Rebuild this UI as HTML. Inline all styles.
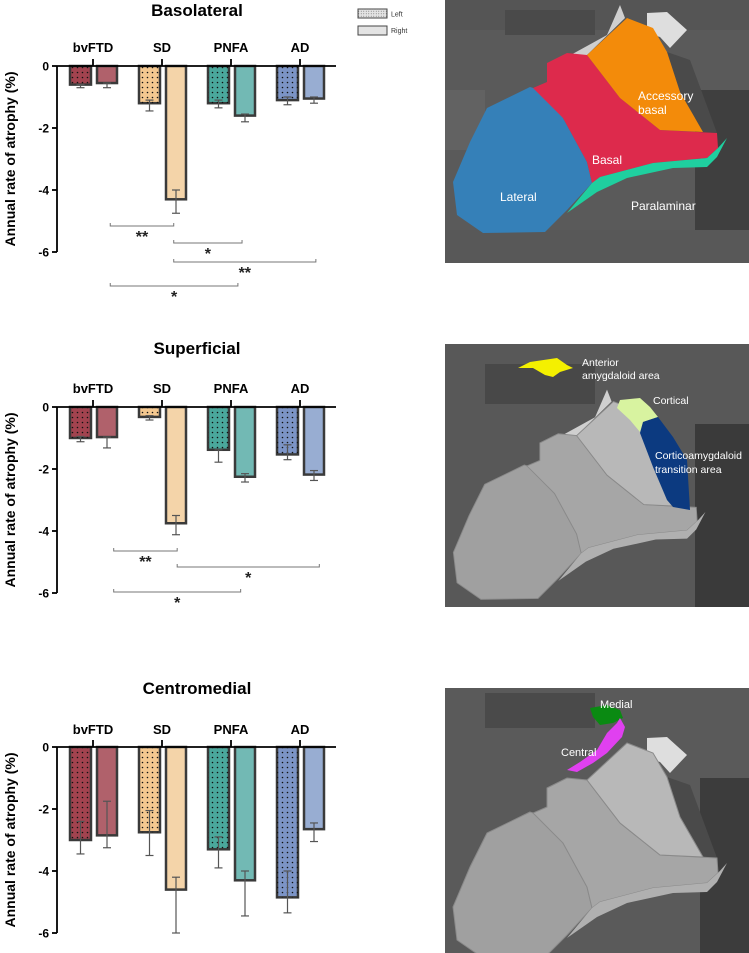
<!DOCTYPE html>
<html><head><meta charset="utf-8">
<style>
html,body{margin:0;padding:0;background:#fff;}
body{width:749px;height:953px;position:relative;overflow:hidden;font-family:"Liberation Sans",Arial,sans-serif;}
svg text{font-family:"Liberation Sans",Arial,sans-serif;}
.panel{position:absolute;left:445px;width:304px;}
</style></head>
<body>
<svg id="charts" width="445" height="953" style="position:absolute;left:0;top:0">
<defs>
<pattern id="dots" width="5" height="5" patternUnits="userSpaceOnUse">
<circle cx="2.5" cy="2.5" r="0.8" fill="#111"/>
</pattern>
<pattern id="dotsLeg" width="2.5" height="2.5" patternUnits="userSpaceOnUse">
<circle cx="1.25" cy="1.25" r="0.45" fill="#666"/>
</pattern>
</defs>
<g>
<rect x="358" y="9" width="29" height="9" fill="#e4e4e4" stroke="#444" stroke-width="1"/>
<rect x="358" y="9" width="29" height="9" fill="url(#dotsLeg)"/>
<text x="391" y="16.5" font-size="7" fill="#333">Left</text>
<rect x="358" y="26" width="29" height="9" fill="#e4e4e4" stroke="#444" stroke-width="1"/>
<text x="391" y="33" font-size="7" fill="#333">Right</text>
</g>
</svg>

<svg class="panel" style="top:0" width="304" height="263">
<rect width="304" height="263" fill="#5a5a5a"/>
<rect x="0" y="0" width="304" height="30" fill="#555"/>
<rect x="60" y="10" width="90" height="25" fill="#4a4a4a"/>
<rect x="0" y="90" width="40" height="60" fill="#626262"/>
<rect x="250" y="90" width="54" height="173" fill="#3f3f3f"/>
<rect x="0" y="230" width="304" height="33" fill="#585858"/>
<polygon points="122,57 162,35 175,5 180,18 142,55" fill="#cfcfcf"/>
<polygon points="202,13 222,12 242,30 225,48 215,37 202,33" fill="#dedede"/>
<polygon points="222,52 245,60 272,133 258,132 235,92" fill="#4a4a4a"/>
<polygon points="85,87 42,108 25,142 8,182 12,215 38,233 100,232 122,210 147,183 142,162 118,118 95,90" fill="#3580b8"/>
<polygon points="102,63 122,53 142,55 175,98 215,130 272,133 273,148 262,158 208,163 155,177 147,183 142,162 118,118 88,88 102,82" fill="#dd2a4c"/>
<polygon points="142,55 182,18 208,28 222,52 235,92 258,132 215,130 175,98" fill="#f38b0a"/>
<polygon points="147,183 155,177 208,163 262,158 273,148 282,138 272,157 262,167 228,168 182,178 152,192 122,213" fill="#1fcf9f"/>
<text x="193" y="100" font-size="12" fill="#fff">Accessory</text>
<text x="193" y="114" font-size="12" fill="#fff">basal</text>
<text x="147" y="164" font-size="12" fill="#fff">Basal</text>
<text x="55" y="201" font-size="12" fill="#fff">Lateral</text>
<text x="186" y="210" font-size="12" fill="#fff">Paralaminar</text>
</svg>

<svg class="panel" style="top:344px" width="304" height="263">
<rect width="304" height="263" fill="#585858"/>
<rect x="40" y="20" width="110" height="40" fill="#484848"/>
<rect x="250" y="80" width="54" height="183" fill="#3a3a3a"/>
<g transform="translate(1,41) scale(0.92)">
<polygon points="122,57 162,35 175,5 180,18 142,55" fill="#cfcfcf"/>
<polygon points="85,87 42,108 25,142 8,182 12,215 38,233 100,232 122,210 147,183 142,162 118,118 95,90" fill="#a0a0a0" stroke="#8a8a8a" stroke-width="1"/>
<polygon points="102,63 122,53 142,55 175,98 215,130 272,133 273,148 262,158 208,163 155,177 147,183 142,162 118,118 88,88 102,82" fill="#a6a6a6" stroke="#8a8a8a" stroke-width="1"/>
<polygon points="142,55 182,18 208,28 222,52 235,92 258,132 215,130 175,98" fill="#b8b8b8" stroke="#8a8a8a" stroke-width="1"/>
<polygon points="147,183 155,177 208,163 262,158 273,148 282,138 272,157 262,167 228,168 182,178 152,192 122,213" fill="#b0b0b0"/>
</g>
<polygon points="73,24 85,18 112,14 122,21 128,24 115,28 108,33 100,31 88,24" fill="#f4f000"/>
<polygon points="175,56 195,54 205,63 213,73 198,78 195,88 185,76 172,64" fill="#d8f3a0"/>
<polygon points="198,78 213,73 228,93 242,116 245,166 228,163 222,156 208,123 195,89" fill="#0c3a80"/>
<text x="137" y="22" font-size="10.5" fill="#fff">Anterior</text>
<text x="137" y="35" font-size="10.5" fill="#fff">amygdaloid area</text>
<text x="208" y="60" font-size="10.5" fill="#fff">Cortical</text>
<text x="210" y="115" font-size="10.5" fill="#fff">Corticoamygdaloid</text>
<text x="210" y="129" font-size="10.5" fill="#fff">transition area</text>
</svg>

<svg class="panel" style="top:688px" width="304" height="265">
<rect width="304" height="265" fill="#5a5a5a"/>
<rect x="40" y="5" width="110" height="35" fill="#4a4a4a"/>
<rect x="255" y="90" width="49" height="175" fill="#3c3c3c"/>
<g transform="translate(0,37)">
<polygon points="202,13 222,12 242,30 225,48 215,37 202,33" fill="#dedede"/>
<polygon points="222,52 245,60 272,133 258,132 235,92" fill="#4a4a4a"/>
<polygon points="85,87 42,108 25,142 8,182 12,215 38,233 100,232 122,210 147,183 142,162 118,118 95,90" fill="#a0a0a0" stroke="#8a8a8a" stroke-width="1"/>
<polygon points="102,63 122,53 142,55 175,98 215,130 272,133 273,148 262,158 208,163 155,177 147,183 142,162 118,118 88,88 102,82" fill="#a6a6a6" stroke="#8a8a8a" stroke-width="1"/>
<polygon points="142,55 182,18 208,28 222,52 235,92 258,132 215,130 175,98" fill="#b8b8b8" stroke="#8a8a8a" stroke-width="1"/>
<polygon points="147,183 155,177 208,163 262,158 273,148 282,138 272,157 262,167 228,168 182,178 152,192 122,213" fill="#b0b0b0"/>
</g>
<polygon points="145,20 162,17 175,22 178,30 168,35 155,37 148,29" fill="#0a8a12"/>
<polygon points="175,30 180,39 177,49 162,65 148,75 132,84 122,82 135,74 152,62 162,45 172,35" fill="#e040f0"/>
<text x="155" y="20" font-size="11" fill="#fff">Medial</text>
<text x="116" y="68" font-size="11" fill="#fff">Central</text>
</svg>

<script>
const categories = ["bvFTD","SD","PNFA","AD"];
const yTicks = [0,-2,-4,-6];
const yTickLabels = ["0","-2","-4","-6"];
const chartTitles = ["Basolateral","Superficial","Centromedial"];
// Basolateral
const basoLeft = [-0.6,-1.2,-1.2,-1.1];
const basoLeftLo = [-0.7,-1.45,-1.35,-1.25];
const basoLeftHi = [-0.6,-1.1,-1.1,-1.0];
const basoRight = [-0.55,-4.3,-1.6,-1.05];
const basoRightLo = [-0.7,-4.75,-1.8,-1.2];
const basoRightHi = [-0.55,-4.0,-1.55,-1.0];
// Superficial
const supLeft = [-1.0,-0.32,-1.38,-1.53];
const supLeftLo = [-1.12,-0.42,-1.78,-1.7];
const supLeftHi = [-0.95,-0.28,-1.38,-1.22];
const supRight = [-0.97,-3.75,-2.25,-2.18];
const supRightLo = [-1.32,-4.12,-2.42,-2.37];
const supRightHi = [-0.97,-3.5,-2.15,-2.05];
// Centromedial
const cenLeft = [-3.0,-2.75,-3.3,-4.85];
const cenLeftLo = [-3.45,-3.5,-3.9,-5.35];
const cenLeftHi = [-2.4,-2.05,-2.9,-4.0];
const cenRight = [-2.85,-4.6,-4.3,-2.65];
const cenRightLo = [-3.25,-6.0,-5.45,-3.05];
const cenRightHi = [-1.75,-4.2,-4.0,-2.45];
// significance brackets: [from (category units), to (category units), label]
const basoSig = [[0.25,1.17,"**"],[1.17,2.16,"*"],[1.17,3.23,"**"],[0.25,2.1,"*"]];
const supSig = [[0.3,1.22,"**"],[1.22,3.28,"*"],[0.3,2.14,"*"]];
const cenSig = [];

const leftFill = ["#a2434f","#f4c890","#4aa89c","#7c94c6"];
const rightFill = ["#b0616b","#f4d4a9","#72b9b4","#98add2"];
const NS = "http://www.w3.org/2000/svg";
const svg = document.getElementById("charts");
function mk(tag, attrs, parent){const e=document.createElementNS(NS,tag);for(const k in attrs)e.setAttribute(k,attrs[k]);(parent||svg).appendChild(e);return e;}

const charts = [
 {zero:66, title:10, lab:47, L:basoLeft,LL:basoLeftLo,LH:basoLeftHi,R:basoRight,RL:basoRightLo,RH:basoRightHi,sig:basoSig,sigY:[226,243,262,286]},
 {zero:407, title:348, lab:388, L:supLeft,LL:supLeftLo,LH:supLeftHi,R:supRight,RL:supRightLo,RH:supRightHi,sig:supSig,sigY:[551,567,592]},
 {zero:747, title:688, lab:729, L:cenLeft,LL:cenLeftLo,LH:cenLeftHi,R:cenRight,RL:cenRightLo,RH:cenRightHi,sig:cenSig,sigY:[]}
];
const names=["basolateral","superficial","centromedial"];
const axX=57, unit=31;
function xc(i){return 93+i*69;}
function xpos(f){return 93+f*69;}
charts.forEach((c,ci)=>{
  const g=mk("g",{});
  
  
  const y=v=>c.zero - v*unit;
  const t=mk("text",{x:197,y:c.title+6,"text-anchor":"middle","font-size":"17","font-weight":"bold",fill:"#000"},g);
  t.textContent=chartTitles[ci];
  
  
  const at=mk("text",{x:0,y:0,transform:"translate(15,"+(c.zero+3*unit)+") rotate(-90)","text-anchor":"middle","font-size":"14","font-weight":"bold",fill:"#000"},g);
  at.textContent="Annual rate of atrophy (%)";
  
  
  categories.forEach((cat,i)=>{
    const cx=xc(i);
    const vL=c.L[i], vR=c.R[i];
    const bl=mk("rect",{x:cx-23,y:c.zero,width:21,height:y(vL)-c.zero,fill:leftFill[i],stroke:"#3a3a3a","stroke-width":2.5},g);
    
    
    mk("rect",{x:cx-23,y:c.zero,width:21,height:y(vL)-c.zero,fill:"url(#dots)"},g);
    const br=mk("rect",{x:cx+4,y:c.zero,width:20,height:y(vR)-c.zero,fill:rightFill[i],stroke:"#3a3a3a","stroke-width":2.5},g);
    
    
    [[cx-12.5,c.LL[i],c.LH[i]],[cx+14,c.RL[i],c.RH[i]]].forEach(e=>{
      const eg=mk("g",{stroke:"#555","stroke-width":1.2},g);
      
      
      mk("line",{x1:e[0],x2:e[0],y1:y(e[2]),y2:y(e[1])},eg);
      mk("line",{x1:e[0]-4,x2:e[0]+4,y1:y(e[2]),y2:y(e[2])},eg);
      mk("line",{x1:e[0]-4,x2:e[0]+4,y1:y(e[1]),y2:y(e[1])},eg);
    });
    const ct=mk("text",{x:cx,y:c.lab+5,"text-anchor":"middle","font-size":"13","font-weight":"bold",fill:"#000"},g);
    ct.textContent=cat;
    
    
    mk("line",{x1:cx,x2:cx,y1:c.zero-7,y2:c.zero,stroke:"#000","stroke-width":1.8},g);
  });
  mk("line",{x1:axX,x2:336,y1:c.zero,y2:c.zero,stroke:"#000","stroke-width":1.8},g);
  mk("line",{x1:axX,x2:axX,y1:c.zero,y2:y(-6),stroke:"#000","stroke-width":1.8},g);
  yTicks.forEach((v,k)=>{
    mk("line",{x1:axX-5,x2:axX,y1:y(v),y2:y(v),stroke:"#000","stroke-width":1.8},g);
    const tl=mk("text",{x:49,y:y(v)+4.5,"text-anchor":"end","font-size":"12","font-weight":"bold",fill:"#000"},g);
    tl.textContent=yTickLabels[k];
    
    
  });
  c.sig.forEach((s,k)=>{
    const x1=xpos(s[0]), x2=xpos(s[1]), yy=c.sigY[k];
    const sg=mk("g",{},g);
    
    
    mk("path",{d:"M"+x1+","+(yy-3)+"V"+yy+"H"+x2+"V"+(yy-3),fill:"none",stroke:"#777","stroke-width":1},sg);
    const st=mk("text",{x:(x1+x2)/2,y:yy+16,"text-anchor":"middle","font-size":"16","font-weight":"bold",fill:"#222"},sg);
    st.textContent=s[2];
  });
});
</script>
</body></html>
